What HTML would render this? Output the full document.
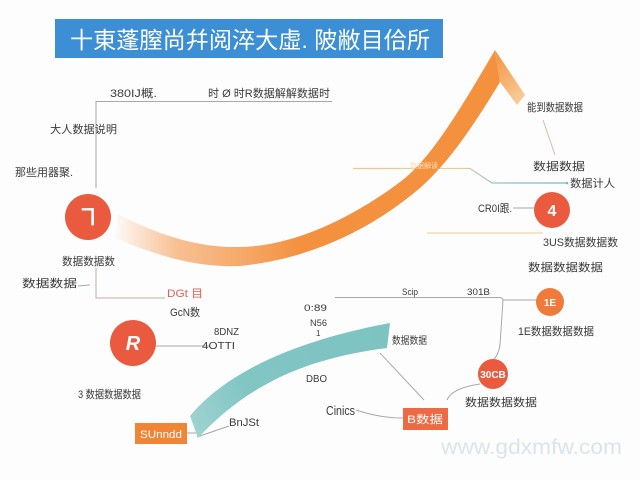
<!DOCTYPE html>
<html><head><meta charset="utf-8"><style>
html,body{margin:0;padding:0;background:#fdfdfd;}
svg{display:block;}
text{font-family:"Liberation Sans","Noto Sans CJK SC",sans-serif;}
</style></head><body>
<svg width="640" height="480" viewBox="0 0 640 480" xmlns="http://www.w3.org/2000/svg">
<defs>
<linearGradient id="og" gradientUnits="userSpaceOnUse" x1="112" y1="0" x2="300" y2="0">
<stop offset="0" stop-color="#f6a060" stop-opacity="0"/>
<stop offset="0.35" stop-color="#f5a564" stop-opacity="0.7"/>
<stop offset="1" stop-color="#f3913f"/>
</linearGradient>
<linearGradient id="wg" gradientUnits="userSpaceOnUse" x1="495" y1="60" x2="525" y2="100">
<stop offset="0" stop-color="#f39a48"/>
<stop offset="1" stop-color="#f7cf9f"/>
</linearGradient>
<linearGradient id="tg" gradientUnits="userSpaceOnUse" x1="190" y1="430" x2="390" y2="330">
<stop offset="0" stop-color="#9fd3d1"/>
<stop offset="0.3" stop-color="#82c6c4"/>
<stop offset="1" stop-color="#7cc3c2"/>
</linearGradient>
<linearGradient id="lg" gradientUnits="userSpaceOnUse" x1="353" y1="0" x2="567" y2="0">
<stop offset="0" stop-color="#f0c890"/>
<stop offset="0.5" stop-color="#e0d0a0"/>
<stop offset="0.7" stop-color="#8cc4c4"/>
<stop offset="1" stop-color="#7bb8c0"/>
</linearGradient>
</defs>

<!-- title -->
<rect x="55" y="19" width="388" height="39" fill="#3c8fd5"/>
<text x="70" y="48" font-size="23" fill="#fff" textLength="360" lengthAdjust="spacingAndGlyphs">十東蓬膣尚幷阅淬大虛. 陂敝目佮所</text>

<!-- gray connector lines left -->
<g stroke="#a8a8a8" stroke-width="1" fill="none">
<path d="M96 188 V101.5 H332"/>
<path d="M96 268 V298 H165" stroke="#c8a8a8"/>
<path d="M78 286 L90 285"/>
<path d="M156 346 H210"/>
<path d="M335 297.5 H500 Q503 298 503 300 V300 H539"/>
<path d="M503 300 L500 345 Q498 356 493 360"/>
<path d="M380 353 L424 400"/>
<path d="M356 410 Q380 418 403 418"/>
<path d="M480 384 Q452 388 447 400"/>
<path d="M197 437 L229 426"/>
<path d="M187 433 H197"/>
<path d="M513 208 H535"/>
</g>
<path d="M353 168.5 H470 L492 183 H567" stroke="url(#lg)" stroke-width="1.3" fill="none"/>
<circle cx="567" cy="183" r="1.3" fill="#7bb8c0"/>
<path d="M543 120 L555 155" stroke="#e0b8a0" stroke-width="1" fill="none"/>
<path d="M427 233 H543" stroke="#f3dcb0" stroke-width="1.5" fill="none"/>

<!-- orange arrow -->
<path d="M118 214 C160 236 200 248 240 247 C300 246 360 212 400 182 C430 160 460 110 495 50 L500 82 C480 115 452 160 420 188 C380 222 320 258 240 266 C190 268 150 252 114 238 Z" fill="url(#og)"/>
<path d="M495 50 L525 95 L517 105 L500 82 Z" fill="url(#wg)"/>
<text x="410" y="168" font-size="7" fill="#fbe0c0">数据解读</text>

<!-- teal band -->
<path d="M190 416 C228 370 300 340 390 323 L387 348 C310 358 250 382 198 438 Z" fill="url(#tg)"/>

<!-- circles -->
<circle cx="88" cy="217" r="23" fill="#ea5a3e"/>
<text x="88" y="224" font-size="20" font-weight="bold" fill="#fff" text-anchor="middle">ヿ</text>
<circle cx="552" cy="210" r="18" fill="#ea5a3e"/>
<text x="552" y="216" font-size="16" font-weight="bold" fill="#fff" text-anchor="middle">4</text>
<circle cx="133" cy="343" r="23" fill="#ea5a3e"/>
<text x="133" y="350" font-size="20" font-weight="bold" font-style="italic" fill="#fff" text-anchor="middle">R</text>
<circle cx="550" cy="302" r="14" fill="#ef7a3a"/>
<text x="550" y="306" font-size="10" font-weight="bold" fill="#fff" text-anchor="middle">1E</text>
<circle cx="493" cy="374" r="15" fill="#ea5a3e"/>
<text x="493" y="378" font-size="10" font-weight="bold" fill="#fff" text-anchor="middle">30CB</text>

<!-- rects -->
<rect x="135" y="423" width="52" height="21" fill="#f08535"/>
<text x="161" y="438" font-size="11" fill="#fff" text-anchor="middle" textLength="42" lengthAdjust="spacingAndGlyphs">SUnndd</text>
<rect x="403" y="408" width="45" height="22" fill="#ee6a45"/>
<text x="425" y="423" font-size="11" fill="#fff" text-anchor="middle" textLength="36" lengthAdjust="spacingAndGlyphs">B数据</text>

<!-- labels -->
<g font-size="11" fill="#3a3a3a">
<text x="110" y="97" textLength="47" lengthAdjust="spacingAndGlyphs">380IJ概.</text>
<text x="208" y="97" textLength="122" lengthAdjust="spacingAndGlyphs">时 Ø 时R数据解解数据时</text>
<text x="50" y="133" textLength="67" lengthAdjust="spacingAndGlyphs">大人数据说明</text>
<text x="15" y="176" textLength="58" lengthAdjust="spacingAndGlyphs">那些用器聚.</text>
<text x="527" y="111" textLength="56" lengthAdjust="spacingAndGlyphs">能到数据数据</text>
<text x="533" y="170" textLength="52" lengthAdjust="spacingAndGlyphs">数据数据</text>
<text x="570" y="187" textLength="45" lengthAdjust="spacingAndGlyphs">数据计人</text>
<text x="478" y="212" textLength="34" lengthAdjust="spacingAndGlyphs">CR0I跟.</text>
<text x="543" y="246" textLength="75" lengthAdjust="spacingAndGlyphs">3US数据数据数</text>
<text x="528" y="271" textLength="75" lengthAdjust="spacingAndGlyphs">数据数据数据</text>
<text x="62" y="265" textLength="53" lengthAdjust="spacingAndGlyphs">数据数据数</text>
<text x="22" y="287" textLength="55" lengthAdjust="spacingAndGlyphs">数据数据</text>
<text x="167" y="297" fill="#e06050" textLength="36" lengthAdjust="spacingAndGlyphs">DGt 目</text>
<text x="170" y="316" textLength="30" lengthAdjust="spacingAndGlyphs">GcN数</text>
<text x="214" y="335" font-size="10" textLength="25" lengthAdjust="spacingAndGlyphs">8DNZ</text>
<text x="202" y="349" font-size="10" textLength="33" lengthAdjust="spacingAndGlyphs">4OTTI</text>
<text x="78" y="398" textLength="63" lengthAdjust="spacingAndGlyphs">3 数据数据数据</text>
<text x="304" y="311" font-size="9" textLength="23" lengthAdjust="spacingAndGlyphs">0:89</text>
<text x="310" y="326" font-size="9" textLength="17" lengthAdjust="spacingAndGlyphs">N56</text>
<text x="316" y="336" font-size="8">1</text>
<text x="402" y="295" font-size="9" textLength="16" lengthAdjust="spacingAndGlyphs">Scip</text>
<text x="467" y="295" font-size="9" textLength="23" lengthAdjust="spacingAndGlyphs">301B</text>
<text x="518" y="335" textLength="76" lengthAdjust="spacingAndGlyphs">1E数据数据数据</text>
<text x="392" y="344" font-size="10" textLength="35" lengthAdjust="spacingAndGlyphs">数据数据</text>
<text x="306" y="382" font-size="10" textLength="21" lengthAdjust="spacingAndGlyphs">DBO</text>
<text x="326" y="415" font-size="13" textLength="29" lengthAdjust="spacingAndGlyphs">Cinics</text>
<text x="465" y="406" textLength="72" lengthAdjust="spacingAndGlyphs">数据数据数据</text>
<text x="229" y="426" textLength="30" lengthAdjust="spacingAndGlyphs">BnJSt</text>
</g>

<!-- watermark -->
<text x="441" y="454" font-size="21" fill="#dbe4ec" textLength="181" lengthAdjust="spacingAndGlyphs">www.gdxmfw.com</text>
</svg>
</body></html>
